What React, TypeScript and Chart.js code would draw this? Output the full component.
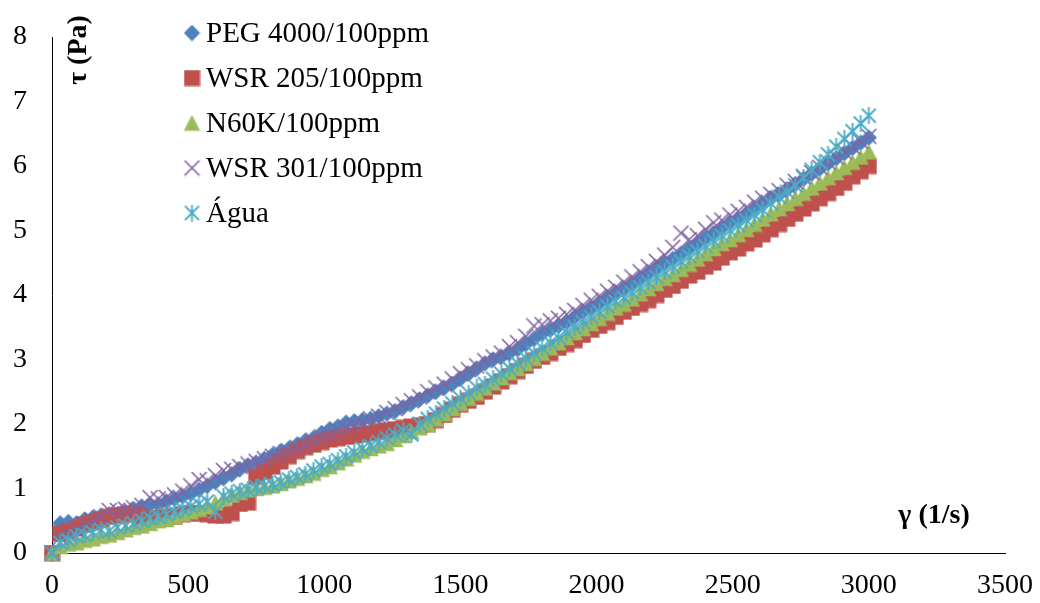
import React, { useEffect, useRef } from 'react';
import { Chart, registerables } from 'chart.js';

Chart.register(...registerables);

// ---- data ----
const shearRate = [
  0, 30, 60, 90, 120, 150, 180, 210, 240, 270,
  300, 330, 360, 390, 420, 450, 480, 510, 540, 570,
  600, 630, 660, 690, 720, 750, 780, 810, 840, 870,
  900, 930, 960, 990, 1020, 1050, 1080, 1110, 1140, 1170,
  1200, 1230, 1260, 1290, 1320, 1350, 1380, 1410, 1440, 1470,
  1500, 1530, 1560, 1590, 1620, 1650, 1680, 1710, 1740, 1770,
  1800, 1830, 1860, 1890, 1920, 1950, 1980, 2010, 2040, 2070,
  2100, 2130, 2160, 2190, 2220, 2250, 2280, 2310, 2340, 2370,
  2400, 2430, 2460, 2490, 2520, 2550, 2580, 2610, 2640, 2670,
  2700, 2730, 2760, 2790, 2820, 2850, 2880, 2910, 2940, 2970,
  3000,
];

const peg4000 = [
  0, 0.46, 0.48, 0.46, 0.52, 0.55, 0.58, 0.60, 0.60, 0.64,
  0.68, 0.72, 0.75, 0.75, 0.80, 0.84, 0.88, 0.92, 0.98, 1.04,
  1.10, 1.16, 1.22, 1.30, 1.36, 1.40, 1.46, 1.52, 1.58, 1.62,
  1.68, 1.74, 1.78, 1.86, 1.92, 1.96, 2.02, 2.04, 2.06, 2.08,
  2.12, 2.16, 2.20, 2.26, 2.32, 2.38, 2.44, 2.50, 2.56, 2.62,
  2.70, 2.78, 2.86, 2.94, 3.00, 3.04, 3.10, 3.16, 3.24, 3.32,
  3.40, 3.46, 3.52, 3.58, 3.66, 3.74, 3.80, 3.88, 3.96, 4.04,
  4.10, 4.18, 4.26, 4.34, 4.42, 4.50, 4.56, 4.64, 4.72, 4.80,
  4.88, 4.96, 5.04, 5.12, 5.18, 5.26, 5.34, 5.42, 5.50, 5.56,
  5.64, 5.72, 5.80, 5.88, 5.96, 6.04, 6.12, 6.20, 6.28, 6.36,
  6.44,
];

const wsr205 = [
  0, 0.30, 0.34, 0.38, 0.44, 0.48, 0.52, 0.56, 0.58, 0.60,
  0.60, 0.56, 0.54, 0.54, 0.56, 0.56, 0.60, 0.62, 0.62, 0.60,
  0.58, 0.58, 0.62, 0.76, 0.78, 1.18, 1.26, 1.34, 1.42, 1.50,
  1.58, 1.64, 1.68, 1.72, 1.76, 1.78, 1.80, 1.82, 1.84, 1.86,
  1.88, 1.90, 1.92, 1.94, 1.96, 1.98, 2.00, 2.06, 2.14, 2.22,
  2.30, 2.36, 2.42, 2.50, 2.58, 2.66, 2.74, 2.82, 2.90, 2.98,
  3.04, 3.10, 3.18, 3.24, 3.30, 3.38, 3.46, 3.52, 3.58, 3.66,
  3.74, 3.80, 3.86, 3.92, 4.00, 4.08, 4.14, 4.22, 4.30, 4.36,
  4.44, 4.50, 4.58, 4.66, 4.72, 4.80, 4.86, 4.94, 5.02, 5.10,
  5.18, 5.26, 5.34, 5.42, 5.50, 5.58, 5.66, 5.74, 5.84, 5.92,
  6.00,
];

const n60k = [
  0, 0.10, 0.14, 0.16, 0.20, 0.22, 0.26, 0.28, 0.32, 0.36,
  0.40, 0.42, 0.46, 0.50, 0.52, 0.56, 0.60, 0.64, 0.68, 0.72,
  0.78, 0.84, 0.90, 0.94, 0.98, 1.00, 1.02, 1.04, 1.08, 1.12,
  1.16, 1.20, 1.24, 1.30, 1.34, 1.40, 1.46, 1.52, 1.58, 1.62,
  1.66, 1.70, 1.76, 1.82, 1.88, 1.94, 2.00, 2.08, 2.16, 2.24,
  2.32, 2.40, 2.48, 2.56, 2.64, 2.72, 2.80, 2.86, 2.94, 3.02,
  3.10, 3.18, 3.26, 3.34, 3.42, 3.48, 3.56, 3.64, 3.72, 3.80,
  3.86, 3.94, 4.02, 4.10, 4.18, 4.26, 4.32, 4.40, 4.48, 4.56,
  4.64, 4.72, 4.80, 4.86, 4.94, 5.02, 5.10, 5.18, 5.26, 5.34,
  5.42, 5.50, 5.58, 5.66, 5.74, 5.82, 5.90, 5.98, 6.06, 6.14,
  6.22,
];

const wsr301 = [
  0, 0.24, 0.30, 0.36, 0.44, 0.50, 0.56, 0.66, 0.66, 0.68,
  0.70, 0.74, 0.86, 0.84, 0.86, 0.90, 0.96, 1.04, 1.14, 1.12,
  1.20, 1.28, 1.30, 1.34, 1.38, 1.42, 1.46, 1.50, 1.54, 1.58,
  1.64, 1.68, 1.74, 1.80, 1.84, 1.90, 1.94, 1.98, 2.02, 2.08,
  2.12, 2.18, 2.24, 2.30, 2.36, 2.42, 2.50, 2.56, 2.62, 2.70,
  2.78, 2.84, 2.90, 2.98, 3.04, 3.10, 3.20, 3.26, 3.36, 3.52,
  3.54, 3.60, 3.64, 3.70, 3.76, 3.84, 3.92, 3.98, 4.06, 4.12,
  4.20, 4.28, 4.36, 4.44, 4.52, 4.62, 4.74, 4.96, 4.86, 4.92,
  5.02, 5.12, 5.16, 5.24, 5.30, 5.36, 5.44, 5.50, 5.56, 5.62,
  5.70, 5.76, 5.84, 5.90, 5.98, 6.06, 6.14, 6.22, 6.30, 6.38,
  6.46,
];

const agua = [
  0, 0.16, 0.20, 0.26, 0.28, 0.32, 0.36, 0.34, 0.40, 0.42,
  0.46, 0.50, 0.54, 0.56, 0.60, 0.64, 0.68, 0.72, 0.76, 0.80,
  0.64, 0.88, 0.92, 0.96, 0.98, 1.02, 1.04, 1.06, 1.10, 1.14,
  1.18, 1.22, 1.28, 1.34, 1.38, 1.44, 1.50, 1.56, 1.62, 1.66,
  1.72, 1.78, 1.84, 1.90, 1.84, 2.00, 2.08, 2.16, 2.24, 2.32,
  2.40, 2.48, 2.56, 2.62, 2.70, 2.78, 2.86, 2.94, 3.02, 3.10,
  3.18, 3.26, 3.34, 3.42, 3.50, 3.58, 3.66, 3.74, 3.82, 3.90,
  3.96, 4.04, 4.12, 4.20, 4.28, 4.36, 4.44, 4.52, 4.60, 4.68,
  4.76, 4.84, 4.92, 5.00, 5.08, 5.16, 5.24, 5.32, 5.42, 5.52,
  5.60, 5.70, 5.82, 5.94, 6.06, 6.18, 6.30, 6.42, 6.54, 6.66,
  6.78,
];

const seriesNames = ['PEG 4000/100ppm', 'WSR 205/100ppm', 'N60K/100ppm', 'WSR 301/100ppm', 'Água'];
const seriesValues = [peg4000, wsr205, n60k, wsr301, agua];
const seriesColors = ['#4F81BD', '#C0504D', '#9BBB59', '#8064A2', '#4BACC6'];
const seriesMarkers = ['diamond', 'square', 'triangle', 'x', 'asterisk'];

const xMin = 0;
const xMax = 3500;
const xStep = 500;
const yMin = 0;
const yMax = 8;
const yStep = 1;

const yTitle = 'τ (Pa)';
const xTitle = 'γ (1/s)';

const FONT = "'Liberation Serif', 'Times New Roman', serif";

function makeMarker(kind: string, color: string): HTMLCanvasElement {
  const s = 17;
  const c = document.createElement('canvas');
  c.width = s;
  c.height = s;
  const ctx = c.getContext('2d') as CanvasRenderingContext2D;
  const h = s / 2;
  ctx.fillStyle = color;
  ctx.strokeStyle = color;
  if (kind === 'diamond') {
    ctx.beginPath();
    ctx.moveTo(h, 0.3);
    ctx.lineTo(s - 0.3, h);
    ctx.lineTo(h, s - 0.3);
    ctx.lineTo(0.3, h);
    ctx.closePath();
    ctx.fill();
  } else if (kind === 'square') {
    ctx.fillRect(0.5, 0.5, s - 1, s - 1);
  } else if (kind === 'triangle') {
    ctx.beginPath();
    ctx.moveTo(h, 0.5);
    ctx.lineTo(s - 0.3, s - 0.8);
    ctx.lineTo(0.3, s - 0.8);
    ctx.closePath();
    ctx.fill();
  } else if (kind === 'x') {
    ctx.lineWidth = 1.6;
    ctx.beginPath();
    ctx.moveTo(1, 1);
    ctx.lineTo(s - 1, s - 1);
    ctx.moveTo(s - 1, 1);
    ctx.lineTo(1, s - 1);
    ctx.stroke();
  } else if (kind === 'asterisk') {
    ctx.lineWidth = 1.8;
    ctx.beginPath();
    ctx.moveTo(1.5, 1.5);
    ctx.lineTo(s - 1.5, s - 1.5);
    ctx.moveTo(s - 1.5, 1.5);
    ctx.lineTo(1.5, s - 1.5);
    ctx.moveTo(h, 0);
    ctx.lineTo(h, s);
    ctx.stroke();
  }
  return c;
}

export default function App() {
  const canvasRef = useRef<HTMLCanvasElement | null>(null);

  useEffect(() => {
    const canvas = canvasRef.current;
    if (!canvas) return;
    const markers = seriesMarkers.map((m, i) => makeMarker(m, seriesColors[i]));

    const overlayPlugin = {
      id: 'overlayTexts',
      afterDraw(chart: any) {
        const ctx: CanvasRenderingContext2D = chart.ctx;
        ctx.save();
        ctx.fillStyle = '#000';
        // y-axis title (rotated)
        ctx.font = `bold 28px ${FONT}`;
        ctx.textAlign = 'center';
        ctx.textBaseline = 'middle';
        ctx.save();
        ctx.translate(79, 50);
        ctx.rotate(-Math.PI / 2);
        ctx.fillText(yTitle, 0, 0);
        ctx.restore();
        // x-axis title
        ctx.fillText(xTitle, 934, 516);
        // legend
        ctx.font = `29px ${FONT}`;
        ctx.textAlign = 'left';
        seriesNames.forEach((name, i) => {
          const y = 33 + i * 45;
          const m = markers[i];
          ctx.drawImage(m, 192 - m.width / 2, y - m.height / 2);
          ctx.fillText(name, 206, y + 1);
        });
        ctx.restore();
      },
    };

    const chart = new Chart(canvas, {
      type: 'scatter',
      data: {
        datasets: seriesValues.map((vals, i) => ({
          label: seriesNames[i],
          data: vals.map((v, j) => ({ x: shearRate[j], y: v })),
          pointStyle: markers[i],
          backgroundColor: seriesColors[i],
          borderColor: seriesColors[i],
          showLine: false,
          clip: false,
          order: seriesValues.length - i,
        })),
      },
      options: {
        responsive: false,
        animation: false,
        devicePixelRatio: 1,
        layout: { padding: { top: 37, right: 35, left: 0, bottom: 0 } },
        plugins: {
          legend: { display: false },
          tooltip: { enabled: false },
        },
        scales: {
          x: {
            type: 'linear',
            min: xMin,
            max: xMax,
            grid: { display: false, drawTicks: false },
            border: { display: true, color: '#000', width: 1 },
            ticks: {
              stepSize: xStep,
              color: '#000',
              padding: 16,
              maxRotation: 0,
              font: { family: FONT, size: 28 },
              callback: (v: any) => String(v),
            },
            afterFit: (s: any) => {
              s.height = 50;
              s.paddingLeft = 0;
              s.paddingRight = 0;
            },
          },
          y: {
            type: 'linear',
            min: yMin,
            max: yMax,
            grid: { display: false, drawTicks: false },
            border: { display: true, color: '#000', width: 1 },
            ticks: {
              stepSize: yStep,
              color: '#000',
              padding: 25,
              font: { family: FONT, size: 28 },
              callback: (v: any) => String(v),
            },
            afterFit: (s: any) => {
              s.width = 52;
              s.paddingTop = 0;
              s.paddingBottom = 0;
            },
          },
        },
      },
      plugins: [overlayPlugin],
    });

    return () => {
      chart.destroy();
    };
  }, []);

  return (
    <div style={{ position: 'absolute', left: 0, top: 0, width: 1040, height: 603, background: '#fff' }}>
      <canvas ref={canvasRef} width={1040} height={603} style={{ display: 'block', width: 1040, height: 603 }} />
    </div>
  );
}
